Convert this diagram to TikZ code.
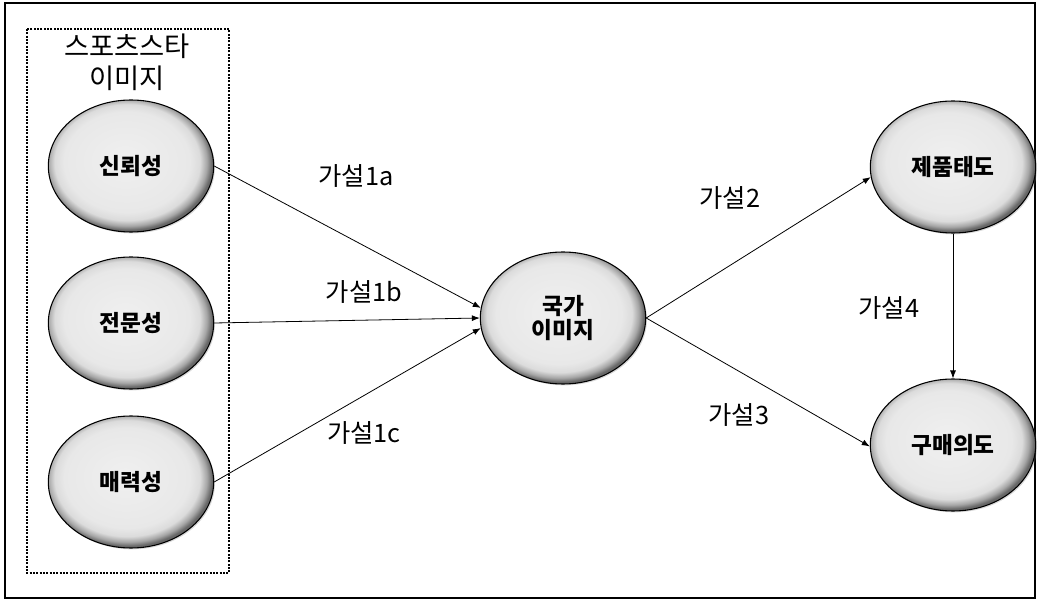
\documentclass[tikz,border=0pt]{standalone}
\usepackage{fontspec}
\setmainfont{Noto Sans CJK KR}
\usetikzlibrary{shapes.geometric,arrows.meta,shadows}
\pgfdeclareradialshading{orb}{\pgfpoint{-2bp}{2.5bp}}{%
  color(0bp)=(black!6); color(19bp)=(black!9); color(22bp)=(black!14);
  color(24bp)=(black!35); color(25.5bp)=(black!60); color(50bp)=(black!60)}
\tikzset{
  orbnode/.style={ellipse, draw=black, line width=0.8pt, shading=orb,
    minimum width=124pt, minimum height=99pt, inner sep=0pt,
    font=\fontsize{17}{18}\selectfont\bfseries, align=center,
    drop shadow={shadow xshift=1pt, shadow yshift=-1pt, opacity=0.3}},
  hyp/.style={font=\fontsize{19}{22}\selectfont, inner sep=0pt},
  link/.style={line width=0.6pt, -{Latex[length=6pt,width=4.5pt]}}
}
\begin{document}
\begin{tikzpicture}[x=0.75pt,y=-0.75pt]
\useasboundingbox (0,0) rectangle (1040,602);
\draw[line width=1pt] (5,3) rectangle (1035,598);
\draw[densely dotted, line width=1.5pt] (27,29) rectangle (229,573);
\node[font=\fontsize{20.5}{24}\selectfont, align=center] (title) at (127,62) {스포츠스타\\이미지};

\node[orbnode] (trust) at (131,166) {신뢰성};
\node[orbnode] (expert) at (131,323) {전문성};
\node[orbnode] (attr) at (131,482) {매력성};
\node[orbnode] (nation) at (563,318) {국가\\이미지};
\node[orbnode] (prod) at (953,167) {제품태도};
\node[orbnode] (buy) at (953,445) {구매의도};

\draw[link] (trust.east) -- (nation.173);
\draw[link] (expert.east) -- (nation.west);
\draw[link] (attr.east) -- (nation.187);
\draw[link] (nation.east) -- (prod.187);
\draw[link] (nation.east) -- (buy.181);
\draw[link] (prod.south) -- (buy.north);

\node[hyp] (h1a) at (356,176) {가설1a};
\node[hyp] (h1b) at (364,292) {가설1b};
\node[hyp] (h1c) at (364,433) {가설1c};
\node[hyp] (h2) at (730,198) {가설2};
\node[hyp] (h3) at (739,415) {가설3};
\node[hyp] (h4) at (889,308) {가설4};
\end{tikzpicture}
\end{document}
